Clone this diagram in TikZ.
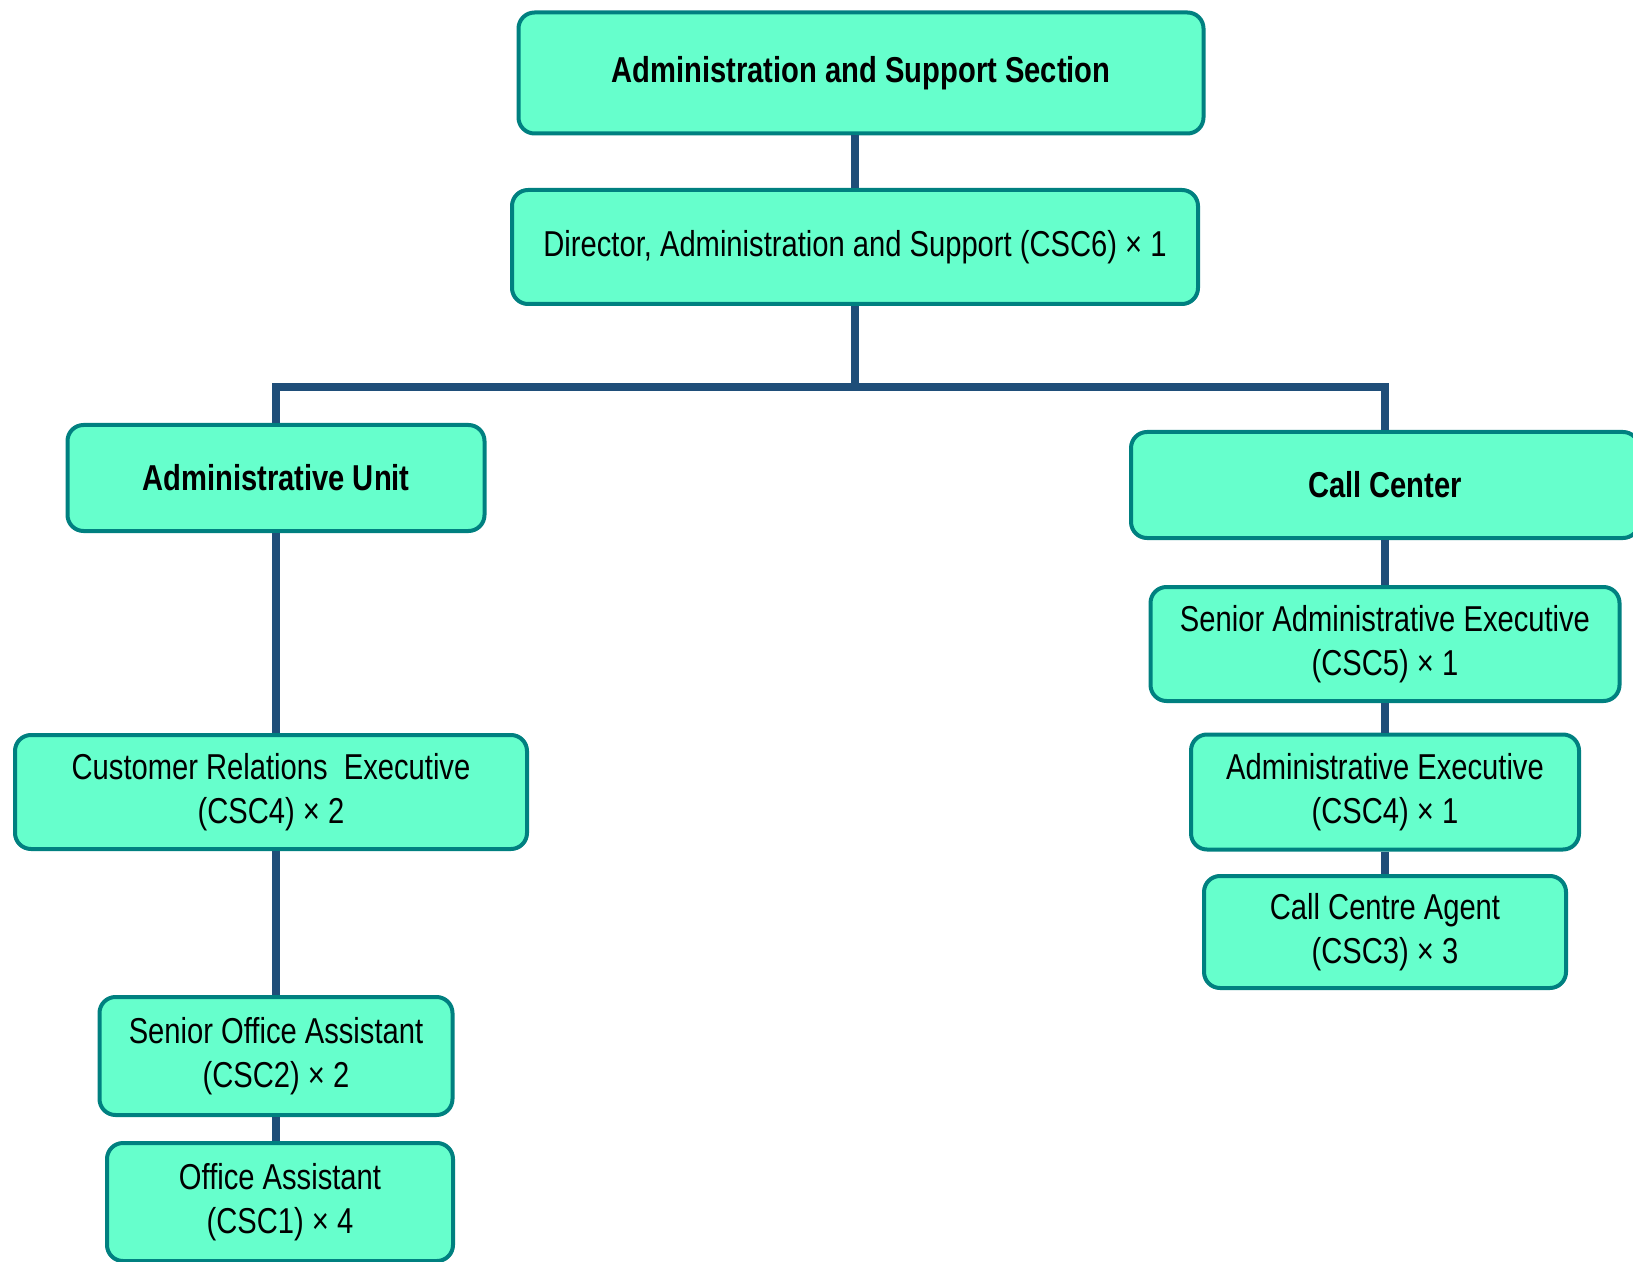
\documentclass[tikz,border=0pt]{standalone}
\usepackage{fontspec}
\setmainfont{Liberation Sans}[FakeStretch=0.81]
\usetikzlibrary{positioning}
\definecolor{BoxFill}{RGB}{102,255,204}
\definecolor{BoxEdge}{RGB}{0,128,128}
\definecolor{LinkBlue}{RGB}{31,78,121}

\begin{document}
\begin{tikzpicture}[
		x=0.5pt, y=-0.5pt,
		post/.style={draw=BoxEdge, line width=2pt, fill=BoxFill, rounded corners=8pt, align=center, inner sep=0pt, font=\fontsize{18}{22}\selectfont},
		unit/.style={post, font=\fontsize{18}{22}\selectfont\bfseries},
		link/.style={draw=LinkBlue, line width=4pt}
	]
	\useasboundingbox (0,0) rectangle (1633,1262);

	\node[unit, minimum width=342.5pt, minimum height=60.5pt] (section) at (861,73) {Administration and Support Section};
	\node[post, minimum width=343pt, minimum height=57pt] (director) at (855,247) {Director, Administration and Support (CSC6) × 1};

	\node[unit, minimum width=208.5pt, minimum height=53pt] (adminunit) at (276,478) {Administrative Unit};
	\node[post, minimum width=256pt, minimum height=57pt] (custrel) at (271,792) {Customer Relations\ \ Executive\\(CSC4) × 2};
	\node[post, minimum width=176.5pt, minimum height=59pt] (senoffice) at (276,1056) {Senior Office Assistant\\(CSC2) × 2};
	\node[post, minimum width=173pt, minimum height=59pt] (office) at (280,1202) {Office Assistant\\(CSC1) × 4};

	\node[unit, minimum width=254pt, minimum height=53pt] (callcenter) at (1385,485) {Call Center};
	\node[post, minimum width=234.5pt, minimum height=57pt] (senadmin) at (1385,644) {Senior Administrative Executive\\(CSC5) × 1};
	\node[post, minimum width=194pt, minimum height=57.5pt] (admin) at (1385,792) {Administrative Executive\\(CSC4) × 1};
	\node[post, minimum width=181pt, minimum height=56pt] (agent) at (1385,932) {Call Centre Agent\\(CSC3) × 3};

	\coordinate (junction) at (855,387);

	\draw[link] (director.north |- section.south) -- (director.north);
	\draw[link] (director.south) -- (junction);
	\draw[link] (adminunit.north) |- (junction) -| (callcenter.north);

	\draw[link] (adminunit.south) -- (adminunit.south |- custrel.north);
	\draw[link] (adminunit.south |- custrel.south) -- (senoffice.north);
	\draw[link] (senoffice.south) -- (senoffice.south |- office.north);

	\draw[link] (callcenter.south) -- (senadmin.north);
	\draw[link] (senadmin.south) -- (admin.north);
	\draw[link] (admin.south) -- (agent.north);

\end{tikzpicture}
\end{document}
